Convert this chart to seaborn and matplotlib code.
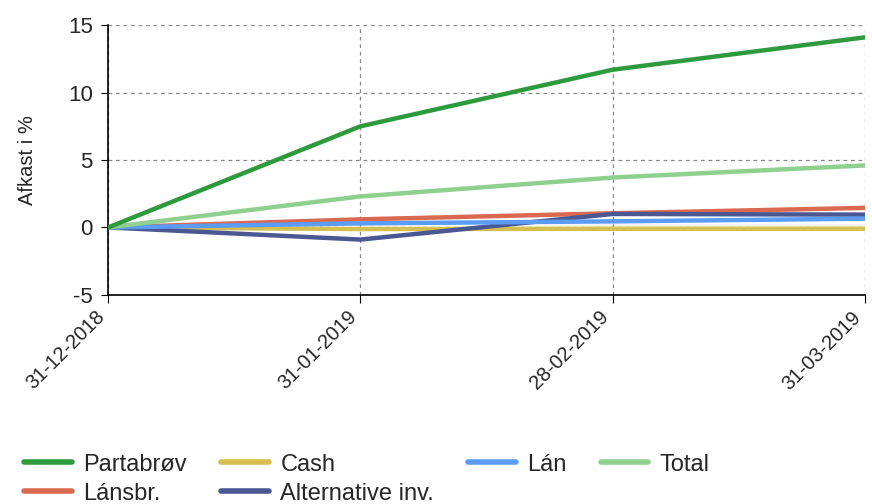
import matplotlib
matplotlib.use("Agg")
import matplotlib.pyplot as plt
import matplotlib.transforms as mtransforms
import seaborn as sns
import pandas as pd

dates = ["31-12-2018", "31-01-2019", "28-02-2019", "31-03-2019"]
series = ["Partabrøv", "Lánsbr.", "Cash", "Alternative inv.", "Lán", "Total"]
partabrov = [0, 7.5, 11.7, 14.1]
lansbr = [0, 0.6, 1.05, 1.45]
cash = [0, -0.12, -0.1, -0.1]
alternative = [0, -0.9, 1.0, 0.95]
lan = [0, 0.3, 0.45, 0.65]
total = [0, 2.3, 3.7, 4.6]
colors = ["#2e9a3e", "#d9694f", "#d4bf50", "#4a5793", "#5b9cf6", "#8fcf8f"]

rows = []
for name, vals in zip(series, [partabrov, lansbr, cash, alternative, lan, total]):
    for i, v in enumerate(vals):
        rows.append({"pos": i, "serie": name, "val": v})
df = pd.DataFrame(rows)

sns.set_style("white")
plt.rcParams["font.family"] = ["Liberation Sans", "DejaVu Sans"]
plt.rcParams["axes.unicode_minus"] = False

fig = plt.figure(figsize=(8.72, 5.04), dpi=100)
ax = fig.add_axes([0.124, 0.415, 0.868, 0.535])

sns.lineplot(data=df, x="pos", y="val", hue="serie", hue_order=series,
             palette=colors, linewidth=3.2, ax=ax, legend=True)
# keep Partabrøv on top
ax.get_lines()[0].set_zorder(5)

ax.set_xlim(0, 3)
ax.set_ylim(-5, 15)
ax.set_xticks(range(len(dates)))
ax.set_xticklabels(dates, rotation=45, ha="right", va="top", fontsize=14.5)
shift = mtransforms.ScaledTranslation(6 / 100, -2 / 100, fig.dpi_scale_trans)
for lbl in ax.get_xticklabels():
    lbl.set_transform(lbl.get_transform() + shift)
ax.set_yticks([-5, 0, 5, 10, 15])
ax.tick_params(axis="y", labelsize=16, length=5, color="black", direction="out", left=True, pad=6)
ax.tick_params(axis="x", length=6, color="black", direction="out", bottom=True, pad=3)
ax.set_xlabel("")
ax.set_ylabel("Afkast i %", fontsize=14.5, labelpad=22)
ax.grid(True, linestyle=(0, (3, 3)), color="#888888", linewidth=0.9)
for s in ["top", "right"]:
    ax.spines[s].set_visible(False)
for s in ["left", "bottom"]:
    ax.spines[s].set_color("black")
    ax.spines[s].set_linewidth(1.2)

handles, labels = ax.get_legend_handles_labels()
ax.get_legend().remove()
leg = fig.legend(handles, labels, ncol=4, loc="upper left", bbox_to_anchor=(0.028, 0.1),
                 frameon=False, fontsize=17, handlelength=2.0, handletextpad=0.5,
                 columnspacing=1.45, labelspacing=0.3, borderaxespad=0, borderpad=0)
for h in leg.get_lines():
    h.set_linewidth(4)

fig.savefig("out.png", dpi=100)
